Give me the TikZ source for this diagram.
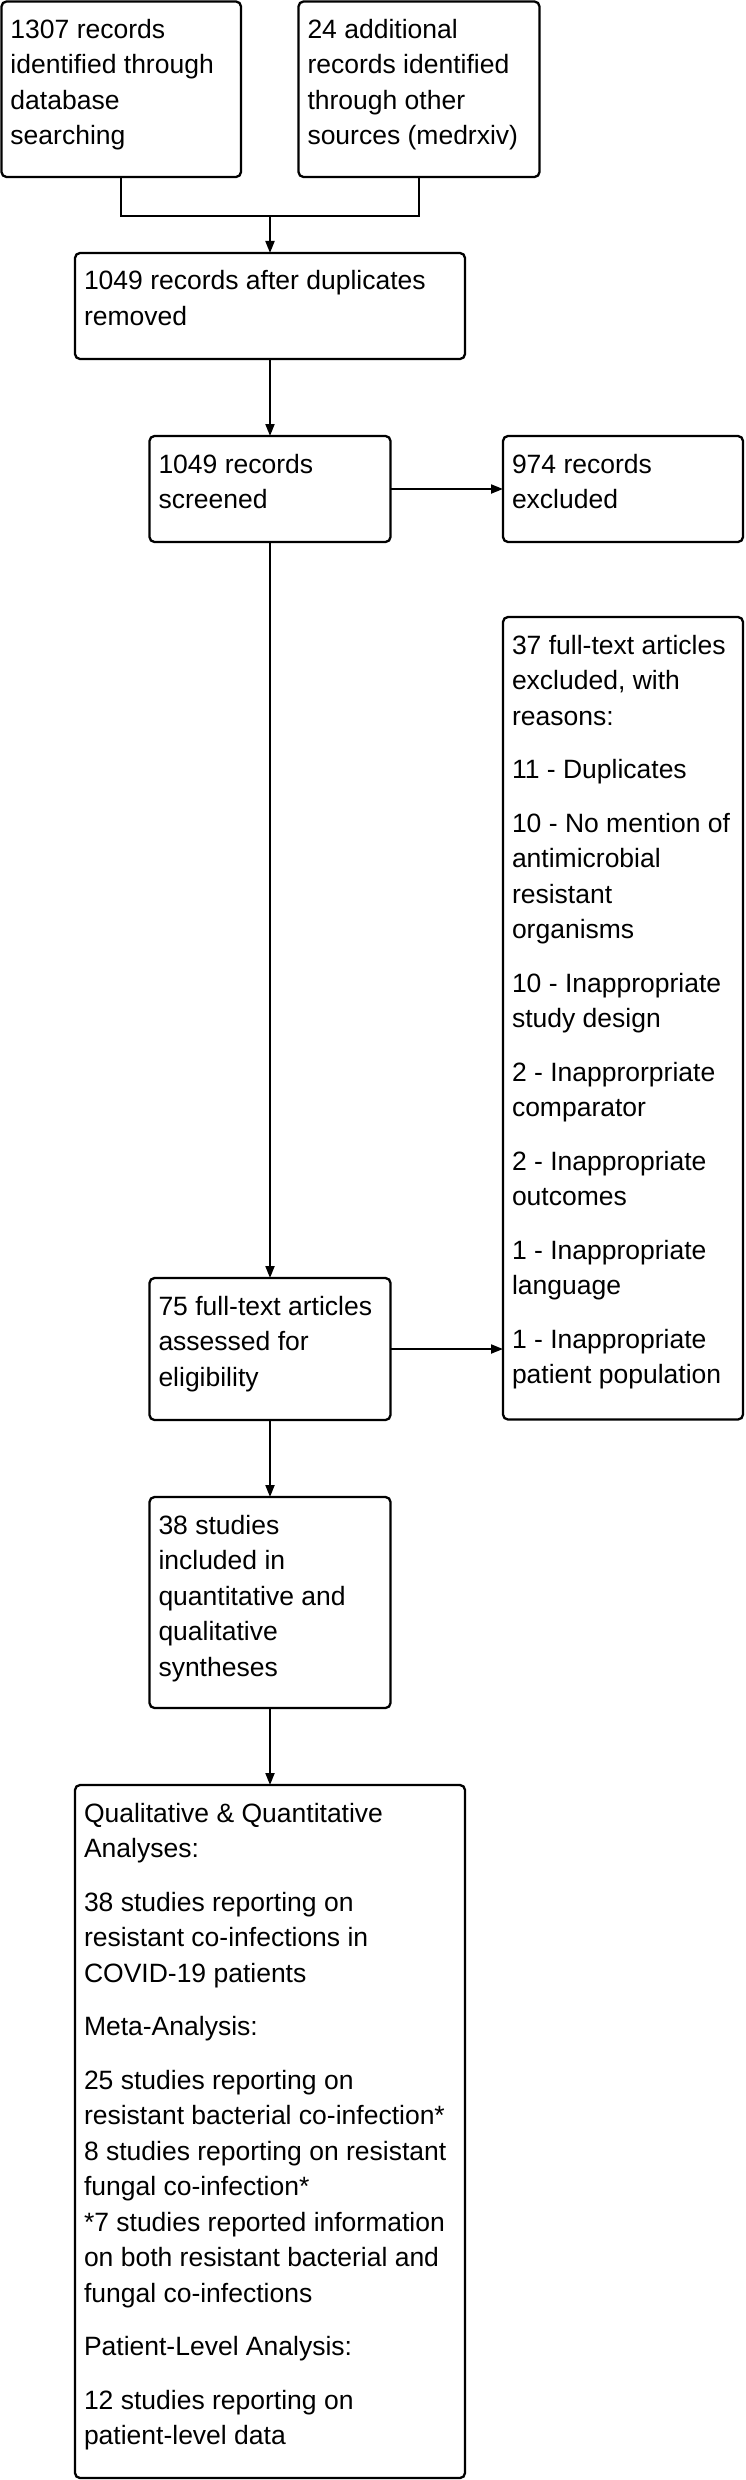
\documentclass[tikz,border=0pt]{standalone}
\usepackage{fontspec}
\setmainfont{Liberation Sans}
\usetikzlibrary{arrows.meta}
\newcommand{\boxc}[3]{\parbox[c][#2][t]{#1}{\fontsize{26.5pt}{35.5pt}\selectfont\setlength{\parskip}{18pt}\setlength{\leftskip}{9pt}\setlength{\rightskip}{0pt plus 1fil}\setlength{\parindent}{0pt}\rule{0pt}{37pt}#3}}
\tikzset{
  flowbox/.style={draw=black, line width=2.3pt, rounded corners=5pt, inner sep=0pt, outer sep=0pt, anchor=north west, text=black},
  conn/.style={draw=black, line width=2pt},
  arr/.style={conn, -{Triangle[length=12pt,width=9pt]}}
}
\begin{document}
\begin{tikzpicture}[x=1pt,y=-1pt]
\useasboundingbox[fill=white] (0,0) rectangle (745,2480);

\node[flowbox] (b1) at (1.5,1.5) {\boxc{239.5pt}{175.5pt}{1307 records\\identified through\\database\\searching}};
\node[flowbox] (b2) at (298.5,1.5) {\boxc{241pt}{175.5pt}{24 additional\\records identified\\through other\\sources (medrxiv)}};
\node[flowbox] (b3) at (75,253) {\boxc{390pt}{106pt}{1049 records after duplicates\\removed}};
\node[flowbox] (b4) at (149.5,436) {\boxc{241pt}{106pt}{1049 records\\screened}};
\node[flowbox] (b5) at (503,436) {\boxc{240pt}{106pt}{974 records\\excluded}};
\node[flowbox] (b6) at (503,617) {\boxc{240pt}{802.5pt}{37 full-text articles\\excluded, with\\reasons:

11 - Duplicates

10 - No mention of\\antimicrobial\\resistant\\organisms

10 - Inappropriate\\study design

2 - Inapprorpriate\\comparator

2 - Inappropriate\\outcomes

1 - Inappropriate\\language

1 - Inappropriate\\patient population}};
\node[flowbox] (b7) at (149.5,1278) {\boxc{241pt}{142pt}{75 full-text articles\\assessed for\\eligibility}};
\node[flowbox] (b8) at (149.5,1497) {\boxc{241pt}{211pt}{38 studies\\included in\\quantitative and\\qualitative\\syntheses}};
\node[flowbox] (b9) at (75,1785) {\boxc{390pt}{693pt}{Qualitative \& Quantitative\\Analyses:

38 studies reporting on\\resistant co-infections in\\COVID-19 patients

Meta-Analysis:

25 studies reporting on\\resistant bacterial co-infection*\\8 studies reporting on resistant\\fungal co-infection*\\{}*7 studies reported information\\on both resistant bacterial and\\fungal co-infections

Patient-Level Analysis:

12 studies reporting on\\patient-level data}};

\coordinate (m) at (270,216);
\draw[conn] (b1.south) -- (b1.south |- m) -- (b2.south |- m) -- (b2.south);
\draw[arr] (m) -- (b3.north);
\draw[arr] (b3.south) -- (b4.north);
\draw[arr] (b4.east) -- (b5.west);
\draw[arr] (b4.south) -- (b7.north);
\draw[arr] (b7.east) -- (b7.east -| b6.west);
\draw[arr] (b7.south) -- (b8.north);
\draw[arr] (b8.south) -- (b9.north);
\end{tikzpicture}
\end{document}
